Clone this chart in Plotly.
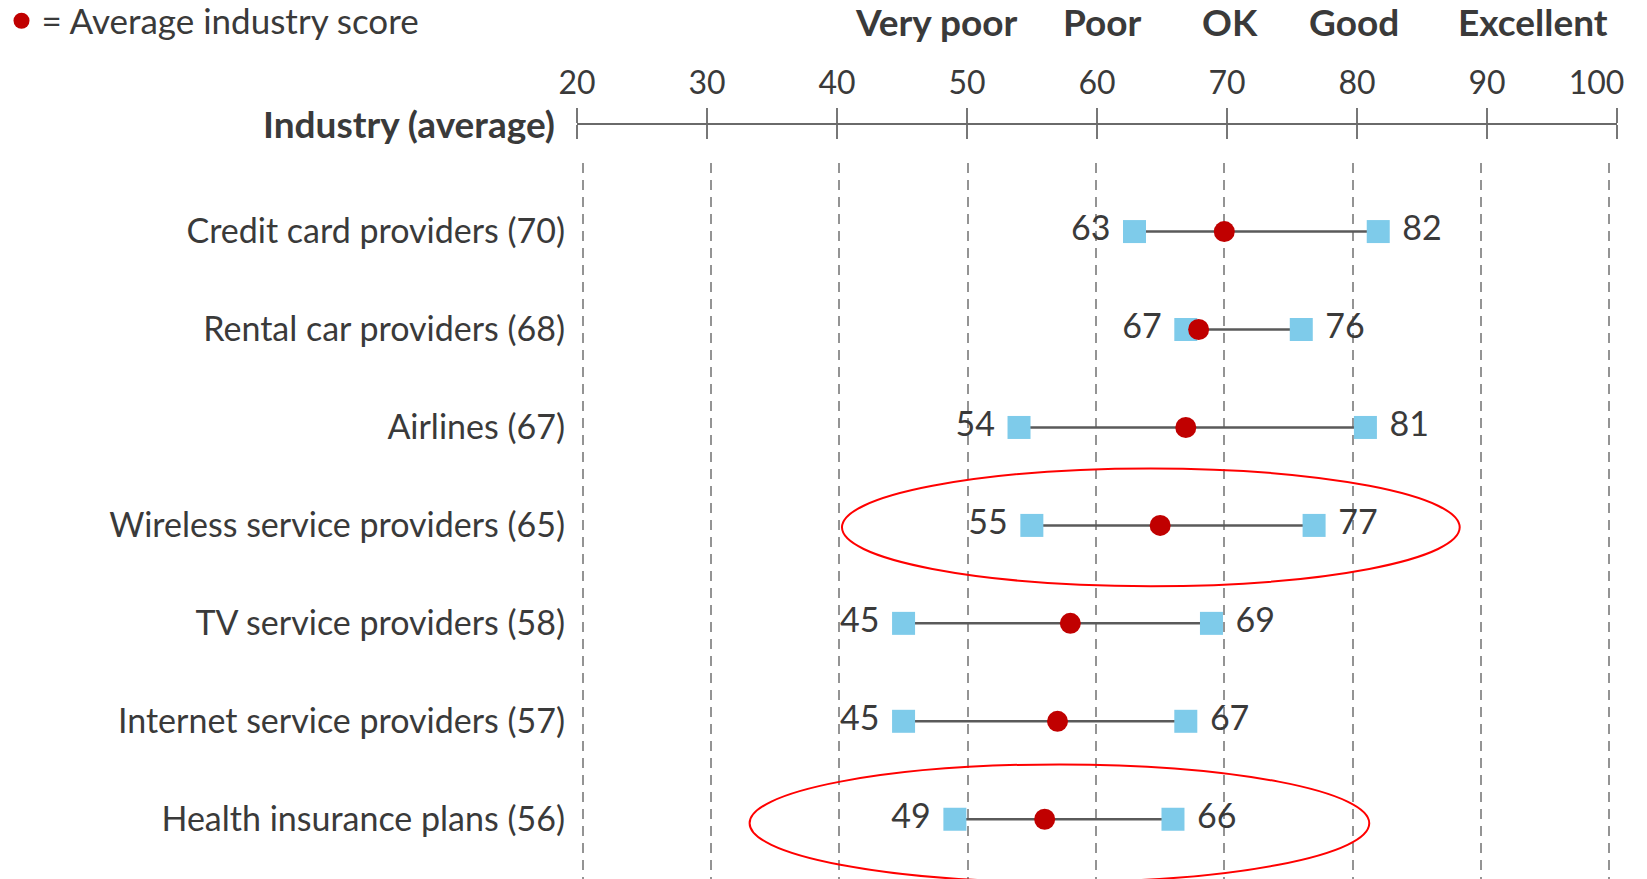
import plotly.graph_objects as go

# ---------------- data ----------------
INDUSTRIES = [
    "Credit card providers",
    "Rental car providers",
    "Airlines",
    "Wireless service providers",
    "TV service providers",
    "Internet service providers",
    "Health insurance plans",
]
AVERAGE = [70, 68, 67, 65, 58, 57, 56]
LOW = [63, 67, 54, 55, 45, 45, 49]
HIGH = [82, 76, 81, 77, 69, 67, 66]

TOP_TICKS = [20, 30, 40, 50, 60, 70, 80, 90, 100]
RATING_LABELS = ["Very poor", "Poor", "OK", "Good", "Excellent"]
HIGHLIGHTED = ["Wireless service providers", "Health insurance plans"]

# ---------------- layout constants ----------------
W, H = 1647, 879
OX, OY = 9, 8                  # page offset compensation
ML0, MR0, MT0, MB0 = 571, 24, 100, 0
ML, MR, MT, MB = ML0 - OX, MR0 + OX, MT0 - OY, MB0 + OY
PW, PH = W - ML - MR, H - MT - MB
FONT = "Lato"
TXT = "#3a3a3a"
RED = "#c00000"
BLUE = "#7ecbea"
RATING_POS = [47.6, 60.4, 70.2, 79.8, 93.5]
NB = "\u00a0"


def py(px):
    """target pixel y (from top) -> paper fraction"""
    return (H - MB0 - px) / PH


def pxx(px):
    """target pixel x -> paper fraction"""
    return (px - ML0) / PW


rows = list(range(len(INDUSTRIES)))
ticktext = [f"{n} ({a})" for n, a in zip(INDUSTRIES, AVERAGE)]
# last top label sits left of its tick (as in the original), others centred
top_ticktext = [str(t) for t in TOP_TICKS[:-1]] + [str(TOP_TICKS[-1]) + NB * 5]

fig = go.Figure()

# connecting lines
for i in rows:
    fig.add_trace(go.Scatter(
        x=[LOW[i], HIGH[i]], y=[i, i], mode="lines",
        line=dict(color="#5a5a5a", width=2.5),
        showlegend=False, hoverinfo="skip"))

# low squares
fig.add_trace(go.Scatter(
    x=LOW, y=rows, mode="markers+text",
    marker=dict(symbol="square", size=23, color=BLUE, line=dict(width=0)),
    text=[str(v) + NB for v in LOW], textposition="middle left",
    textfont=dict(family=FONT, size=34, color=TXT),
    showlegend=False, hoverinfo="skip", cliponaxis=False))

# high squares
fig.add_trace(go.Scatter(
    x=HIGH, y=rows, mode="markers+text",
    marker=dict(symbol="square", size=23, color=BLUE, line=dict(width=0)),
    text=[NB + str(v) for v in HIGH], textposition="middle right",
    textfont=dict(family=FONT, size=34, color=TXT),
    showlegend=False, hoverinfo="skip", cliponaxis=False))

# averages
fig.add_trace(go.Scatter(
    x=AVERAGE, y=rows, mode="markers",
    marker=dict(symbol="circle", size=21, color=RED, line=dict(width=0)),
    name="= Average industry score", showlegend=True, hoverinfo="skip"))

# invisible traces to host the decorative top scale
fig.add_trace(go.Scatter(x=TOP_TICKS, y=[None] * len(TOP_TICKS), xaxis="x2", yaxis="y",
                         mode="markers", showlegend=False, hoverinfo="skip"))
fig.add_trace(go.Scatter(x=TOP_TICKS, y=[None] * len(TOP_TICKS), xaxis="x3", yaxis="y",
                         mode="markers", showlegend=False, hoverinfo="skip"))

# highlight ellipses
ELLIPSES = {
    "Wireless service providers": (40.2, 88.35, -0.58, 0.62),
    "Health insurance plans": (33.0, 81.3, -0.56, 0.64),
}
for name in HIGHLIGHTED:
    r = INDUSTRIES.index(name)
    x0, x1, dy0, dy1 = ELLIPSES[name]
    fig.add_shape(type="circle", xref="x", yref="y",
                  x0=x0, x1=x1, y0=r + dy0, y1=r + dy1,
                  line=dict(color="#ff0000", width=2))

top_d0 = pxx(578)
top_d1 = pxx(1618)
top_pos = py(124)
head_y = py(21)

fig.update_layout(
    width=W, height=H,
    margin=dict(l=ML, r=MR, t=MT, b=MB, autoexpand=False),
    paper_bgcolor="white", plot_bgcolor="rgba(0,0,0,0)",
    font=dict(family=FONT, color=TXT, size=34),
    xaxis=dict(range=[19, 101], tick0=0, dtick=10, showticklabels=False,
               showgrid=True, gridcolor="#949494", gridwidth=1.5, griddash="10px,7px",
               zeroline=False, showline=False, ticks="", fixedrange=True),
    xaxis2=dict(range=[20, 100], domain=[top_d0, top_d1], anchor="free", position=top_pos,
                side="top", tickvals=TOP_TICKS, ticktext=top_ticktext,
                ticks="outside", ticklen=15, tickwidth=1.5, tickcolor="#777777",
                showline=True, linecolor="#6a6a6a", linewidth=1.5,
                showgrid=False, zeroline=False, ticklabeloverflow="allow",
                tickfont=dict(family=FONT, size=32, color=TXT), ticklabelstandoff=1),
    xaxis3=dict(range=[20, 100], domain=[top_d0, top_d1], anchor="free", position=top_pos,
                side="bottom", tickvals=TOP_TICKS, showticklabels=False,
                ticks="outside", ticklen=14, tickwidth=1.5, tickcolor="#777777",
                showline=False, showgrid=False, zeroline=False),
    yaxis=dict(range=[6.61, -0.70], domain=[0, py(163)], tickvals=rows, ticktext=ticktext,
               showgrid=False, zeroline=False, showline=False, ticks="",
               tickfont=dict(family=FONT, size=34, color=TXT), ticklabelstandoff=4),
    legend=dict(x=pxx(2.5), xanchor="left", y=head_y, yanchor="middle",
                font=dict(family=FONT, size=35, color=TXT),
                bgcolor="rgba(0,0,0,0)", itemwidth=30, tracegroupgap=0),
    showlegend=True,
)

# rating labels over the top scale
for lab, pos in zip(RATING_LABELS, RATING_POS):
    fig.add_annotation(x=pos, xref="x2", y=head_y, yref="paper", text=f"<b>{lab}</b>",
                       showarrow=False, xanchor="center", yanchor="middle",
                       font=dict(family=FONT, size=37, color=TXT))

fig.add_annotation(x=pxx(558), xref="paper", y=top_pos, yref="paper",
                   text="<b>Industry (average)</b>", showarrow=False,
                   xanchor="right", yanchor="middle",
                   font=dict(family=FONT, size=37, color=TXT))

fig.write_html("out.html")
